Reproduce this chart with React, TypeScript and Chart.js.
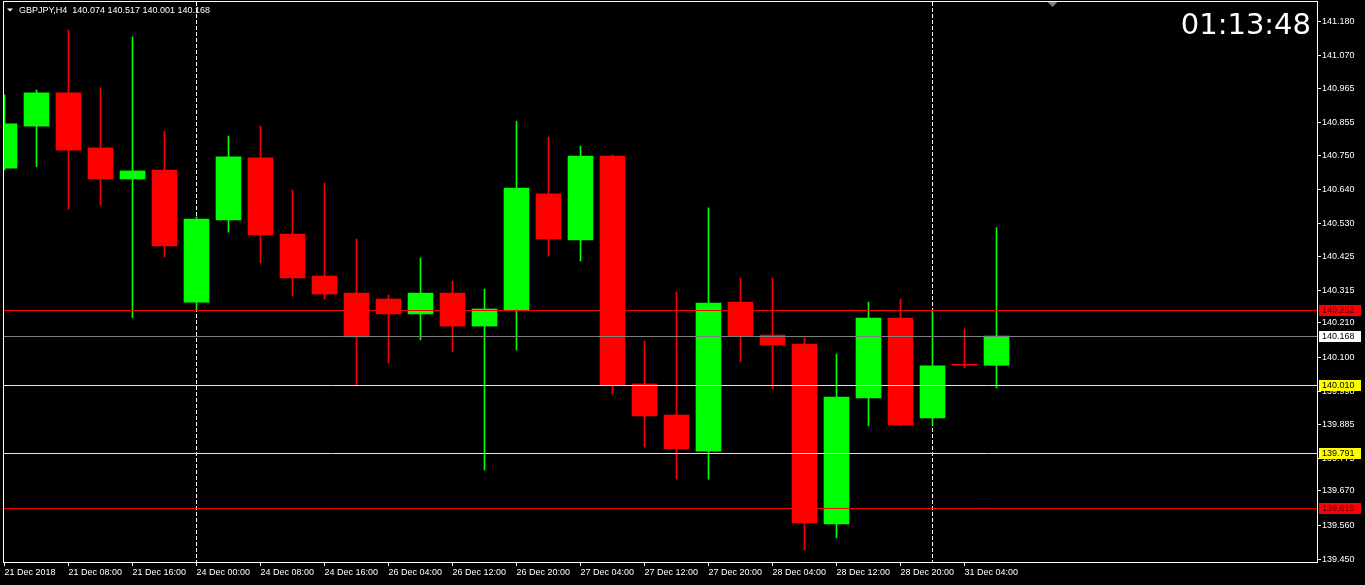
import React, { useEffect, useRef } from 'react';
import { Chart, registerables } from 'chart.js';

Chart.register(...registerables);

// ---- data (GBPJPY H4) ----
const SYMBOL = 'GBPJPY,H4';
const OPEN = [140.708, 140.843, 140.950, 140.773, 140.673, 140.702, 140.277, 140.541, 140.741, 140.496, 140.361, 140.306, 140.287, 140.239, 140.306, 140.200, 140.252, 140.625, 140.477, 140.747, 140.014, 139.914, 139.798, 140.277, 140.171, 140.142, 139.564, 139.969, 140.226, 139.905, 140.076, 140.074];
const HIGH = [140.943, 140.959, 141.152, 140.966, 141.130, 140.827, 140.551, 140.811, 140.843, 140.638, 140.660, 140.480, 140.300, 140.419, 140.345, 140.319, 140.859, 140.808, 140.779, 140.750, 140.152, 140.310, 140.580, 140.355, 140.355, 140.162, 140.110, 140.277, 140.287, 140.252, 140.191, 140.517];
const LOW = [140.702, 140.712, 140.576, 140.589, 140.227, 140.422, 140.252, 140.502, 140.403, 140.297, 140.287, 140.010, 140.081, 140.155, 140.117, 139.737, 140.123, 140.425, 140.409, 139.982, 139.811, 139.708, 139.708, 140.085, 139.998, 139.480, 139.519, 139.879, 139.879, 139.882, 140.066, 140.001];
const CLOSE = [140.850, 140.950, 140.766, 140.673, 140.699, 140.458, 140.544, 140.744, 140.493, 140.355, 140.303, 140.165, 140.239, 140.306, 140.200, 140.255, 140.644, 140.480, 140.747, 140.010, 139.911, 139.805, 140.274, 140.168, 140.139, 139.567, 139.972, 140.226, 139.882, 140.072, 140.074, 140.168];

const X_TICK_INDEX = [0, 2, 4, 6, 8, 10, 12, 14, 16, 18, 20, 22, 24, 26, 28, 30];
const X_TICK_LABELS = ['21 Dec 2018', '21 Dec 08:00', '21 Dec 16:00', '24 Dec 00:00', '24 Dec 08:00', '24 Dec 16:00', '26 Dec 04:00', '26 Dec 12:00', '26 Dec 20:00', '27 Dec 04:00', '27 Dec 12:00', '27 Dec 20:00', '28 Dec 04:00', '28 Dec 12:00', '28 Dec 20:00', '31 Dec 04:00'];
const Y_TICKS = [141.180, 141.070, 140.965, 140.855, 140.750, 140.640, 140.530, 140.425, 140.315, 140.210, 140.100, 139.990, 139.885, 139.775, 139.670, 139.560, 139.450];

const LEVELS = [140.252, 140.168, 140.010, 139.791, 139.615];
const LEVEL_COLORS = ['#ff0000', '#808080', '#ffff00', '#ffff00', '#ff0000'];
const LEVEL_BOX = ['#ff0000', '#ffffff', '#ffff00', '#ffff00', '#ff0000'];
const LEVEL_TEXT = ['#5a0000', '#000000', '#000000', '#000000', '#5a0000'];
const SEPARATORS = [6, 29];
const SHIFT_MARK = 32.75;
const CLOCK = '01:13:48';

const UP = '#00ff00';
const DOWN = '#ff0000';
const FONT = 'Liberation Sans';

const mtPlugin = {
  id: 'mt4',
  beforeDraw(chart: any) {
    const { ctx, width, height } = chart;
    ctx.save();
    ctx.fillStyle = '#000000';
    ctx.fillRect(0, 0, width, height);
    ctx.restore();
  },
  beforeDatasetsDraw(chart: any) {
    const { ctx, chartArea: a, scales } = chart;
    ctx.save();
    ctx.strokeStyle = '#ffffff';
    ctx.lineWidth = 1;
    ctx.setLineDash([4, 2]);
    SEPARATORS.forEach((i) => {
      const px = Math.floor(scales.x.getPixelForValue(i)) + 0.5;
      ctx.beginPath();
      ctx.moveTo(px, a.top);
      ctx.lineTo(px, a.bottom);
      ctx.stroke();
    });
    ctx.restore();
  },
  afterDatasetsDraw(chart: any) {
    const { ctx, chartArea: a, scales } = chart;
    ctx.save();
    ctx.lineWidth = 1;
    LEVELS.forEach((v, k) => {
      const py = Math.round(scales.y.getPixelForValue(v)) + 0.5;
      ctx.strokeStyle = LEVEL_COLORS[k];
      ctx.beginPath();
      ctx.moveTo(a.left, py);
      ctx.lineTo(a.right, py);
      ctx.stroke();
    });
    ctx.restore();
  },
  afterDraw(chart: any) {
    const { ctx, chartArea: a, scales } = chart;
    ctx.save();
    // frame
    ctx.strokeStyle = '#ffffff';
    ctx.lineWidth = 1;
    ctx.strokeRect(a.left + 0.5, a.top - 0.5, a.right - a.left, a.bottom - a.top + 1);
    // price boxes
    ctx.font = `9px "${FONT}"`;
    ctx.textBaseline = 'middle';
    ctx.textAlign = 'left';
    LEVELS.forEach((v, k) => {
      const py = Math.round(scales.y.getPixelForValue(v));
      ctx.fillStyle = LEVEL_BOX[k];
      ctx.fillRect(a.right + 2, py - 5, 42, 11);
      ctx.fillStyle = LEVEL_TEXT[k];
      ctx.fillText(v.toFixed(3), a.right + 5, py + 0.5);
    });
    // shift marker
    const sx = scales.x.getPixelForValue(SHIFT_MARK);
    ctx.fillStyle = '#808080';
    ctx.beginPath();
    ctx.moveTo(sx - 5, a.top);
    ctx.lineTo(sx + 5, a.top);
    ctx.lineTo(sx, a.top + 5);
    ctx.closePath();
    ctx.fill();
    // title
    ctx.fillStyle = '#ffffff';
    ctx.beginPath();
    ctx.moveTo(a.left + 4, a.top + 6.5);
    ctx.lineTo(a.left + 10, a.top + 6.5);
    ctx.lineTo(a.left + 7, a.top + 9.5);
    ctx.closePath();
    ctx.fill();
    const n = OPEN.length - 1;
    const title = `${SYMBOL}  ${OPEN[n].toFixed(3)} ${HIGH[n].toFixed(3)} ${LOW[n].toFixed(3)} ${CLOSE[n].toFixed(3)}`;
    ctx.font = `9px "${FONT}"`;
    ctx.textBaseline = 'alphabetic';
    ctx.fillText(title, a.left + 16, a.top + 11);
    // clock
    ctx.font = '29px "DejaVu Sans"';
    ctx.textAlign = 'right';
    ctx.fillText(CLOCK, a.right - 6, a.top + 31.5);
    ctx.restore();
  },
};

export default function App() {
  const ref = useRef<HTMLCanvasElement | null>(null);

  useEffect(() => {
    document.body.style.margin = '0';
    document.body.style.background = '#000000';
    const canvas = ref.current;
    if (!canvas) return;
    const colors = OPEN.map((o, i) => (CLOSE[i] >= o ? UP : DOWN));
    const chart = new Chart(canvas, {
      type: 'bar',
      data: {
        datasets: [
          {
            label: 'body',
            data: OPEN.map((o, i) => ({ x: i, y: [o, CLOSE[i]] })) as any,
            backgroundColor: colors,
            borderWidth: 0,
            barThickness: 25,
            minBarLength: 1,
            grouped: false,
            order: 0,
          } as any,
          {
            label: 'wick',
            data: LOW.map((l, i) => ({ x: i, y: [l, HIGH[i]] })) as any,
            backgroundColor: colors,
            borderWidth: 0,
            barThickness: 1,
            grouped: false,
            order: 1,
          } as any,
        ],
      },
      options: {
        responsive: false,
        animation: false,
        devicePixelRatio: 1,
        events: [],
        layout: { padding: { left: 3, top: 2, right: 0, bottom: 0 }, autoPadding: false } as any,
        plugins: {
          legend: { display: false },
          tooltip: { enabled: false },
          title: { display: false },
        },
        scales: {
          x: {
            type: 'linear',
            position: 'bottom',
            min: -0.046875,
            max: 41.015625,
            offset: false,
            grid: { display: true, drawOnChartArea: false, drawTicks: true, tickLength: 4, color: '#ffffff', offset: false },
            border: { display: false },
            afterBuildTicks: (s: any) => {
              s.ticks = X_TICK_INDEX.map((v) => ({ value: v }));
            },
            afterFit: (s: any) => {
              s.height = 23;
              s.paddingLeft = 0;
              s.paddingRight = 0;
            },
            ticks: {
              autoSkip: false,
              maxRotation: 0,
              minRotation: 0,
              align: 'start',
              padding: 1,
              color: '#ffffff',
              font: { family: FONT, size: 9 },
              callback: (_v: any, idx: number) => X_TICK_LABELS[idx] ?? '',
            },
          } as any,
          y: {
            type: 'linear',
            position: 'right',
            min: 139.4414,
            max: 141.2421,
            grid: { display: true, drawOnChartArea: false, drawTicks: true, tickLength: 4, color: '#ffffff' },
            border: { display: false },
            afterBuildTicks: (s: any) => {
              s.ticks = Y_TICKS.map((v) => ({ value: v }));
            },
            afterFit: (s: any) => {
              s.width = 48;
              s.paddingTop = 0;
              s.paddingBottom = 0;
            },
            ticks: {
              autoSkip: false,
              padding: 1,
              crossAlign: 'near',
              color: '#ffffff',
              font: { family: FONT, size: 9 },
              callback: (v: any) => Number(v).toFixed(3),
            },
          } as any,
        },
      },
      plugins: [mtPlugin],
    });
    return () => chart.destroy();
  }, []);

  return (
    <div style={{ width: 1365, height: 585, background: '#000000' }}>
      <canvas ref={ref} width={1365} height={585} style={{ display: 'block' }} />
    </div>
  );
}
